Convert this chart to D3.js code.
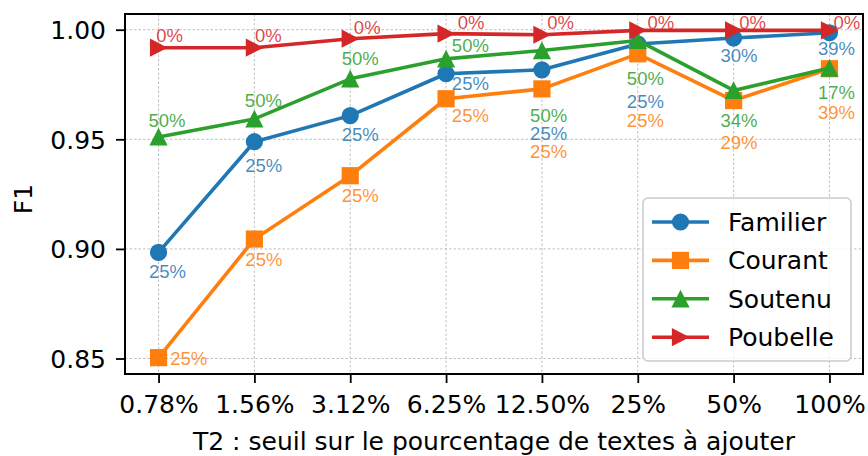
<!DOCTYPE html>
<html>
<head>
<meta charset="utf-8">
<script src="https://cdn.jsdelivr.net/npm/d3@7"></script>
<style>
  html, body { margin: 0; padding: 0; background: #fff; }
  svg { display: block; font-family: "DejaVu Sans", sans-serif; }
</style>
</head>
<body>
<svg id="chart" width="868" height="456"></svg>
<script>
// ---- data ----
const categories = ["0.78%", "1.56%", "3.12%", "6.25%", "12.50%", "25%", "50%", "100%"];
const seriesNames = ["Familier", "Courant", "Soutenu", "Poubelle"];
const familier = [0.8984, 0.9489, 0.9608, 0.9799, 0.9817, 0.9935, 0.9962, 0.9986];
const courant  = [0.8504, 0.9045, 0.9334, 0.9685, 0.9730, 0.9890, 0.9677, 0.9822];
const soutenu  = [0.9511, 0.9593, 0.9776, 0.9867, 0.9905, 0.9951, 0.9723, 0.9825];
const poubelle = [0.9918, 0.9918, 0.9959, 0.9982, 0.9977, 0.9997, 0.9997, 0.9997];
const familierLabels = ["25%", "25%", "25%", "25%", "25%", "25%", "30%", "39%"];
const courantLabels  = ["25%", "25%", "25%", "25%", "25%", "25%", "29%", "39%"];
const soutenuLabels  = ["50%", "50%", "50%", "50%", "50%", "50%", "34%", "17%"];
const poubelleLabels = ["0%", "0%", "0%", "0%", "0%", "0%", "0%", "0%"];
const yTicks = [0.85, 0.90, 0.95, 1.00];
const xTitle = "T2 : seuil sur le pourcentage de textes à ajouter";
const yTitle = "F1";

// ---- style / layout ----
const colors = ["#1f77b4", "#ff7f0e", "#2ca02c", "#d62728"];
const markers = ["circle", "square", "triUp", "triRight"];
// label placement relative to marker (px): [dx of text centre, dy of baseline]
const labelShift = [
  [[9, 26], [9.3, 30.6], [10, 25], [24.3, 16.7], [6.7, 69.7], [7.6, 64.3], [5.3, 24], [7, 22.7]],
  [[30.2, 7.4], [9.5, 27.3], [10, 26.6], [24.3, 23.3], [6.7, 69.3], [7.6, 73.3], [5.3, 48.3], [7, 50]],
  [[8.5, -9.7], [9, -11.7], [10, -14], [24.3, -7.3], [6.7, 71], [7.6, 44.3], [5.3, 36.7], [7, 31.4]],
  [[11, -5.7], [14, -5.7], [17, -5], [25, -4.3], [18.6, -5.3], [23, -1.7], [19, -1.7], [17.5, -1.7]]
];

const values = [familier, courant, soutenu, poubelle];
const labels = [familierLabels, courantLabels, soutenuLabels, poubelleLabels];

const W = 868, H = 456;
const plot = { left: 125, right: 863, top: 14, bottom: 374 };

const svg = d3.select("#chart");
svg.append("rect").attr("width", W).attr("height", H).attr("fill", "#fff");

const x = d3.scalePoint().domain(categories).range([plot.left, plot.right]).padding(0.35);
const all = values.flat();
const vmin = d3.min(all), vmax = d3.max(all), pad = (vmax - vmin) * 0.05;
const y = d3.scaleLinear().domain([vmin - pad, vmax + pad]).range([plot.bottom, plot.top]);

// grid
const grid = svg.append("g");
grid.selectAll("line.gx").data(categories).join("line")
  .attr("x1", d => x(d)).attr("x2", d => x(d))
  .attr("y1", plot.top).attr("y2", plot.bottom)
  .attr("stroke", "#b0b0b0").attr("stroke-width", 0.8).attr("stroke-dasharray", "2.5,2");
grid.selectAll("line.gy").data(yTicks).join("line")
  .attr("x1", plot.left).attr("x2", plot.right)
  .attr("y1", d => y(d)).attr("y2", d => y(d))
  .attr("stroke", "#b0b0b0").attr("stroke-width", 0.8).attr("stroke-dasharray", "2.5,2");

// axes
const xAxis = svg.append("g").attr("transform", `translate(0,${plot.bottom})`)
  .call(d3.axisBottom(x).tickSize(9).tickPadding(11));
const yAxis = svg.append("g").attr("transform", `translate(${plot.left},0)`)
  .call(d3.axisLeft(y).tickValues(yTicks).tickFormat(d3.format(".2f")).tickSize(9).tickPadding(10));
[xAxis, yAxis].forEach(a => {
  a.select(".domain").remove();
  a.selectAll(".tick line").attr("stroke", "#000").attr("stroke-width", 1.8);
  a.selectAll(".tick text").attr("fill", "#000").attr("font-size", 25)
    .attr("font-family", "DejaVu Sans");
});
xAxis.selectAll(".tick text").attr("dy", null).attr("y", 38.7);
yAxis.selectAll(".tick text").attr("dy", "0.36em");

// frame
svg.append("rect").attr("x", plot.left).attr("y", plot.top)
  .attr("width", plot.right - plot.left).attr("height", plot.bottom - plot.top)
  .attr("fill", "none").attr("stroke", "#000").attr("stroke-width", 2);

// titles
svg.append("text").attr("x", (plot.left + plot.right) / 2).attr("y", 450)
  .attr("text-anchor", "middle").attr("font-size", 25).attr("fill", "#000").text(xTitle);
svg.append("text").attr("transform", `translate(31.5,199) rotate(-90)`)
  .attr("text-anchor", "middle").attr("font-size", 25).attr("fill", "#000").text(yTitle);

function drawMarker(g, type, cx, cy, color) {
  const s = 8.6;
  if (type === "circle") {
    g.append("circle").attr("cx", cx).attr("cy", cy).attr("r", s).attr("fill", color);
  } else if (type === "square") {
    g.append("rect").attr("x", cx - s).attr("y", cy - s).attr("width", 2 * s).attr("height", 2 * s).attr("fill", color);
  } else if (type === "triUp") {
    g.append("path").attr("d", `M${cx},${cy - s - 0.5}L${cx - s - 0.5},${cy + s}L${cx + s + 0.5},${cy + s}Z`).attr("fill", color);
  } else {
    g.append("path").attr("d", `M${cx + s + 0.5},${cy}L${cx - s},${cy - s - 0.5}L${cx - s},${cy + s + 0.5}Z`).attr("fill", color);
  }
}

// series
const line = d3.line().x((d, i) => x(categories[i])).y(d => y(d));
values.forEach((vals, si) => {
  const g = svg.append("g");
  g.append("path").attr("d", line(vals)).attr("fill", "none")
    .attr("stroke", colors[si]).attr("stroke-width", 3.6).attr("stroke-linejoin", "round");
  vals.forEach((v, i) => drawMarker(g, markers[si], x(categories[i]), y(v), colors[si]));
});

// annotations
values.forEach((vals, si) => {
  const g = svg.append("g");
  vals.forEach((v, i) => {
    const [dx, dy] = labelShift[si][i];
    g.append("text").attr("x", x(categories[i]) + dx).attr("y", y(v) + dy)
      .attr("text-anchor", "middle").attr("font-size", 18.5)
      .attr("font-family", "'Liberation Sans', Arial, sans-serif")
      .attr("fill", colors[si]).attr("fill-opacity", 0.85).text(labels[si][i]);
  });
});

// legend
const lg = svg.append("g");
lg.append("rect").attr("x", 643).attr("y", 198).attr("width", 208).attr("height", 163)
  .attr("rx", 5).attr("fill", "#fff").attr("fill-opacity", 0.8)
  .attr("stroke", "#cccccc").attr("stroke-width", 1.6);
seriesNames.forEach((name, si) => {
  const cy = 222 + si * 38.4;
  lg.append("line").attr("x1", 652).attr("x2", 709).attr("y1", cy).attr("y2", cy)
    .attr("stroke", colors[si]).attr("stroke-width", 3.6);
  drawMarker(lg, markers[si], 680.5, cy, colors[si]);
  lg.append("text").attr("x", 728).attr("y", cy + 9).attr("font-size", 25)
    .attr("fill", "#000").text(name);
});
</script>
</body>
</html>
